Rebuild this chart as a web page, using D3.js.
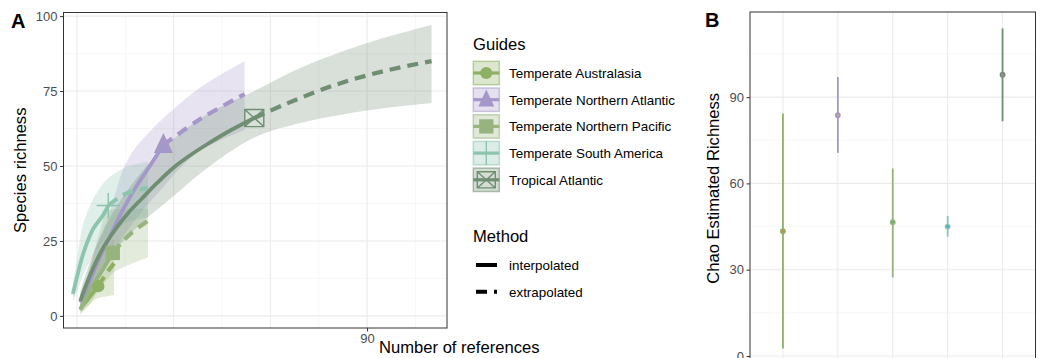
<!DOCTYPE html>
<html>
<head>
<meta charset="utf-8">
<script src="https://cdn.jsdelivr.net/npm/d3@7"></script>
<style>
  body { margin: 0; background: #fff; }
  svg { display: block; font-family: "Liberation Sans", Arial, sans-serif; }
</style>
</head>
<body>
<svg id="chart" width="1042" height="358"></svg>
<script>
const guides = ["Temperate Australasia", "Temperate Northern Atlantic", "Temperate Northern Pacific", "Temperate South America", "Tropical Atlantic"];
const colours = ["#8db063", "#a597c9", "#97b47e", "#8cc4ae", "#6f8e72"];
const accents = ["#c8904e", "#b9ac6c", "#5fb07f", "#2fa7d8", "#c27ac2"];
const shapes = ["circle", "triangle", "square", "plus", "squarecross"];

// rarefaction curves, [references, richness]
const interpAustralasia = [[1, 2.5], [3, 5], [5, 7.8], [6.6, 9.9]];
const extrapAustralasia = [[6.6, 9.9], [9, 14], [11.5, 17.5]];
const bandAustralasia = [[1, 1, 4], [3, 3, 8], [5, 5, 13], [6.6, 6, 17], [9, 6.5, 22], [11.5, 7, 26]];

const interpNAtlantic = [[1, 4.5], [3, 9], [6, 17], [10, 26], [14.3, 35.5], [18, 42.5], [22.6, 50], [26.8, 57]];
const extrapNAtlantic = [[26.8, 57], [38, 65.5], [52, 74]];
const bandNAtlantic = [[1, 2, 7], [3, 5, 13], [6, 11, 23], [10, 19, 34], [14, 26, 48], [17.4, 31, 55], [22.6, 38, 61.5], [26.8, 43, 66], [30, 47, 69], [38, 55, 76], [52, 62, 85]];

const interpNPacific = [[1, 2], [4, 8.5], [8, 15.5], [11.1, 21]];
const extrapNPacific = [[11.1, 21], [13.9, 24.5], [17, 27.8], [22, 31.7]];
const bandNPacific = [[1, 0.5, 4], [4, 4, 16], [7, 9, 28], [9.3, 12, 35], [11.2, 14.4, 35.5], [16, 17, 35.7], [22, 19.5, 35.7]];

const interpSAmerica = [[-1.3, 7.3], [0, 13], [2, 21], [5, 29], [8, 33.5], [9.7, 36.8]];
const extrapSAmerica = [[9.7, 36.8], [13, 39.5], [16.4, 41.3], [22, 42.7]];
const bandSAmerica = [[-1.3, 5, 11], [0, 8, 19], [2, 14, 31], [5, 20, 39], [8, 25, 44], [9.7, 27, 46], [15, 31, 49.5], [22, 33, 51.5]];

const interpTropical = [[1, 5], [4, 13.5], [8, 22.5], [12, 29], [16, 34.5], [20, 39], [25, 44.5], [30, 49.5], [35, 53.5], [40, 57], [47, 61.5], [55, 66]];
const extrapTropical = [[55, 66], [65, 70.8], [80, 77], [95, 81.6], [110, 85]];
const bandTropical = [[1, 3, 8], [4, 9, 18], [8, 16, 28], [12, 22, 36], [20, 31, 48], [30, 40, 59], [40, 49, 67], [55, 59.5, 75], [70, 64.5, 83], [90, 68.5, 91], [110, 71, 97]];

const observed = [[6.6, 9.9], [26.8, 57], [11.1, 21], [9.7, 36.8], [55, 66]];

// Chao estimates for panel B
const chaoEstimate = [43.4, 83.7, 46.5, 45, 97.8];
const chaoLower = [2.6, 70.6, 27.3, 41.5, 81.6];
const chaoUpper = [84.3, 97, 65.2, 48.7, 113.9];

const xTicksA = [90];
const yTicksA = [0, 25, 50, 75, 100];
const yTicksB = [0, 30, 60, 90];

const interpolated = [interpAustralasia, interpNAtlantic, interpNPacific, interpSAmerica, interpTropical];
const extrapolated = [extrapAustralasia, extrapNAtlantic, extrapNPacific, extrapSAmerica, extrapTropical];
const bands = [bandAustralasia, bandNAtlantic, bandNPacific, bandSAmerica, bandTropical];

const svg = d3.select("#chart");

function drawShape(g, shape, cx, cy, s, col) {
  if (shape === "circle") {
    g.append("circle").attr("cx", cx).attr("cy", cy).attr("r", s * 0.36).attr("fill", col);
  } else if (shape === "triangle") {
    const h = s * 1.05;
    g.append("path")
      .attr("d", `M${cx},${cy - h * 0.6}L${cx + s * 0.5},${cy + h * 0.4}L${cx - s * 0.5},${cy + h * 0.4}Z`)
      .attr("fill", col);
  } else if (shape === "square") {
    g.append("rect").attr("x", cx - s * 0.42).attr("y", cy - s * 0.42)
      .attr("width", s * 0.84).attr("height", s * 0.84).attr("fill", col);
  } else if (shape === "plus") {
    g.append("path")
      .attr("d", `M${cx - s * 0.65},${cy}H${cx + s * 0.65}M${cx},${cy - s * 0.7}V${cy + s * 0.7}`)
      .attr("stroke", col).attr("stroke-width", 1.4).attr("fill", "none");
  } else {
    const r = s * 0.5;
    g.append("path")
      .attr("d", `M${cx - r},${cy - r * 0.9}H${cx + r}V${cy + r * 0.9}H${cx - r}Z` +
        `M${cx - r},${cy - r * 0.9}L${cx + r},${cy + r * 0.9}M${cx + r},${cy - r * 0.9}L${cx - r},${cy + r * 0.9}`)
      .attr("stroke", col).attr("stroke-width", 1.4).attr("fill", "none");
  }
}

// ---------- Panel A ----------
const ax = { left: 63.5, right: 447, top: 12.5, bottom: 328 };
const xA = d3.scaleLinear().domain([-4.2, 114.8]).range([ax.left, ax.right]);
const yA = d3.scaleLinear().domain([-4.04, 101.2]).range([ax.bottom, ax.top]);

const gA = svg.append("g");
gA.append("rect").attr("x", ax.left).attr("y", ax.top)
  .attr("width", ax.right - ax.left).attr("height", ax.bottom - ax.top).attr("fill", "#fff");

// grid
const gridA = gA.append("g");
[15, 45, 75, 105].forEach(v => gridA.append("line").attr("x1", xA(v)).attr("x2", xA(v))
  .attr("y1", ax.top).attr("y2", ax.bottom).attr("stroke", "#f1f1f1").attr("stroke-width", 0.6));
[12.5, 37.5, 62.5, 87.5].forEach(v => gridA.append("line").attr("y1", yA(v)).attr("y2", yA(v))
  .attr("x1", ax.left).attr("x2", ax.right).attr("stroke", "#f1f1f1").attr("stroke-width", 0.6));
[0, 30, 60, 90].forEach(v => gridA.append("line").attr("x1", xA(v)).attr("x2", xA(v))
  .attr("y1", ax.top).attr("y2", ax.bottom).attr("stroke", "#ebebeb").attr("stroke-width", 1.1));
yTicksA.forEach(v => gridA.append("line").attr("y1", yA(v)).attr("y2", yA(v))
  .attr("x1", ax.left).attr("x2", ax.right).attr("stroke", "#ebebeb").attr("stroke-width", 1.1));

const smooth = d3.curveCatmullRom.alpha(0.5);
const area = d3.area().x(d => xA(d[0])).y0(d => yA(d[1])).y1(d => yA(d[2])).curve(smooth);
const line = d3.line().x(d => xA(d[0])).y(d => yA(d[1])).curve(smooth);

bands.forEach((b, i) => {
  gA.append("path").attr("d", area(b)).attr("fill", colours[i]).attr("fill-opacity", 0.27);
});
interpolated.forEach((p, i) => {
  gA.append("path").attr("d", line(p)).attr("fill", "none")
    .attr("stroke", colours[i]).attr("stroke-width", 3.8);
});
extrapolated.forEach((p, i) => {
  gA.append("path").attr("d", line(p)).attr("fill", "none")
    .attr("stroke", colours[i]).attr("stroke-width", 4.2).attr("stroke-dasharray", "11 7");
});
const markSize = [17, 19, 17, 18, 19];
observed.forEach((p, i) => drawShape(gA, shapes[i], xA(p[0]), yA(p[1]), markSize[i], colours[i]));

gA.append("rect").attr("x", ax.left).attr("y", ax.top)
  .attr("width", ax.right - ax.left).attr("height", ax.bottom - ax.top)
  .attr("fill", "none").attr("stroke", "#333").attr("stroke-width", 1);

const yAxisA = gA.append("g").attr("transform", `translate(${ax.left},0)`)
  .call(d3.axisLeft(yA).tickValues(yTicksA).tickSize(3.5).tickPadding(2.5));
const xAxisA = gA.append("g").attr("transform", `translate(0,${ax.bottom})`)
  .call(d3.axisBottom(xA).tickValues(xTicksA).tickSize(3.5).tickPadding(2));
[yAxisA, xAxisA].forEach(a => {
  a.select(".domain").remove();
  a.selectAll("line").attr("stroke", "#333");
  a.selectAll("text").attr("fill", "#4d4d4d").style("font-size", "13px")
    .style("font-family", "'Liberation Sans', Arial, sans-serif");
});

svg.append("text").attr("x", 379).attr("y", 353).style("font-size", "16.6px").text("Number of references");
svg.append("text").attr("transform", `translate(25.5,${(ax.top + ax.bottom) / 2}) rotate(-90)`)
  .attr("text-anchor", "middle").style("font-size", "16.6px").text("Species richness");
svg.append("text").attr("x", 11).attr("y", 28).style("font-size", "20px").style("font-weight", "bold").text("A");

// ---------- Legend ----------
const lg = svg.append("g");
lg.append("text").attr("x", 473).attr("y", 50).style("font-size", "16.6px").text("Guides");
const keyX = 473.3, keyW = 26, keyH = 23.4, keyStep = 26.7, keyY0 = 73;
guides.forEach((name, i) => {
  const cy = keyY0 + i * keyStep;
  const k = lg.append("g");
  k.append("rect").attr("x", keyX).attr("y", cy - keyH / 2).attr("width", keyW).attr("height", keyH)
    .attr("fill", colours[i]).attr("fill-opacity", 0.3)
    .attr("stroke", colours[i]).attr("stroke-opacity", 0.55).attr("stroke-width", 1.5);
  k.append("line").attr("x1", keyX).attr("x2", keyX + keyW).attr("y1", cy).attr("y2", cy)
    .attr("stroke", colours[i]).attr("stroke-width", 3.2);
  const ks = [17, 16, 17, 17, 18][i];
  drawShape(k, shapes[i], keyX + keyW / 2, cy, ks, colours[i]);
  lg.append("text").attr("x", 509).attr("y", cy + 5).style("font-size", "13.4px").text(name);
});

lg.append("text").attr("x", 473).attr("y", 241.7).style("font-size", "16.6px").text("Method");
const methods = ["interpolated", "extrapolated"];
methods.forEach((m, i) => {
  const cy = 265 + i * 26.7;
  const l = lg.append("line").attr("x1", 476).attr("x2", 497).attr("y1", cy).attr("y2", cy)
    .attr("stroke", "#000").attr("stroke-width", 4);
  if (i === 1) l.attr("stroke-dasharray", "11 7");
  lg.append("text").attr("x", 509).attr("y", cy + 5).style("font-size", "13.4px").text(m);
});

// ---------- Panel B ----------
const bx = { left: 750, right: 1035.5, top: 12, bottom: 364.6 };
const xB = d3.scalePoint().domain(guides).range([bx.left, bx.right]).padding(0.6);
const yB = d3.scaleLinear().domain([-3, 119.6]).range([bx.bottom, bx.top]);

const gB = svg.append("g");
const gridB = gB.append("g");
[15, 45, 75, 105].forEach(v => gridB.append("line").attr("y1", yB(v)).attr("y2", yB(v))
  .attr("x1", bx.left).attr("x2", bx.right).attr("stroke", "#f1f1f1").attr("stroke-width", 0.6));
yTicksB.forEach(v => gridB.append("line").attr("y1", yB(v)).attr("y2", yB(v))
  .attr("x1", bx.left).attr("x2", bx.right).attr("stroke", "#ebebeb").attr("stroke-width", 1.1));
guides.forEach(g => gridB.append("line").attr("x1", xB(g)).attr("x2", xB(g))
  .attr("y1", bx.top).attr("y2", bx.bottom).attr("stroke", "#ebebeb").attr("stroke-width", 1.1));

guides.forEach((g, i) => {
  gB.append("line").attr("x1", xB(g)).attr("x2", xB(g))
    .attr("y1", yB(chaoLower[i])).attr("y2", yB(chaoUpper[i]))
    .attr("stroke", colours[i]).attr("stroke-width", 1.8);
  gB.append("circle").attr("cx", xB(g)).attr("cy", yB(chaoEstimate[i])).attr("r", 2.9)
    .attr("fill", colours[i]);
  gB.append("circle").attr("cx", xB(g)).attr("cy", yB(chaoEstimate[i])).attr("r", 1.4)
    .attr("fill", accents[i]).attr("fill-opacity", 0.8);
});

gB.append("rect").attr("x", bx.left).attr("y", bx.top)
  .attr("width", bx.right - bx.left).attr("height", bx.bottom - bx.top)
  .attr("fill", "none").attr("stroke", "#333").attr("stroke-width", 1);

const yAxisB = gB.append("g").attr("transform", `translate(${bx.left},0)`)
  .call(d3.axisLeft(yB).tickValues(yTicksB).tickSize(3.5).tickPadding(2.5));
yAxisB.select(".domain").remove();
yAxisB.selectAll("line").attr("stroke", "#333");
yAxisB.selectAll("text").attr("fill", "#4d4d4d").style("font-size", "13px")
  .style("font-family", "'Liberation Sans', Arial, sans-serif");

svg.append("text").attr("transform", `translate(718.5,${(bx.top + bx.bottom) / 2}) rotate(-90)`)
  .attr("text-anchor", "middle").style("font-size", "16.6px").text("Chao Estimated Richness");
svg.append("text").attr("x", 705).attr("y", 27).style("font-size", "20px").style("font-weight", "bold").text("B");
</script>
</body>
</html>
